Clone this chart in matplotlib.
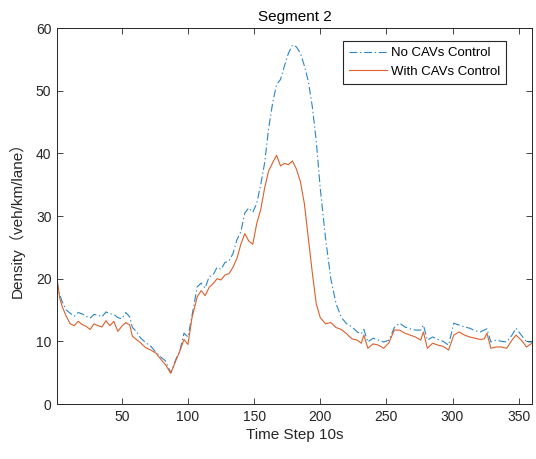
import matplotlib
matplotlib.use("Agg")
import matplotlib.pyplot as plt

t = [1, 3, 5, 8, 11, 14, 17, 20, 23, 26, 29, 32, 35, 38, 41, 44, 47, 50, 53, 56,
     58, 61, 64, 68, 72, 76, 80, 83, 87, 91, 94, 97, 100, 103, 107, 110, 113, 116, 119, 122,
     125, 128, 131, 134, 137, 140, 143, 146, 149, 152, 155, 158, 161, 164, 167, 170, 173, 176, 179, 182,
     185, 188, 191, 194, 197, 200, 204, 208, 212, 216, 220, 224, 228, 231, 233, 236, 240, 244, 248, 252,
     256, 260, 264, 268, 272, 276, 278, 281, 285, 289, 293, 297, 301, 305, 309, 313, 317, 321, 324, 326,
     329, 333, 337, 341, 345, 348, 352, 356, 360]

no_cav = [19.5, 17.5, 16.3, 15.0, 14.5, 14.0, 14.6, 14.4, 14.0, 13.7, 14.3, 14.2, 13.9, 14.7, 14.4, 14.3, 13.8, 13.6, 14.6, 13.9,
          12.2, 11.6, 10.6, 9.8, 9.2, 8.2, 7.4, 6.9, 5.0, 7.2, 8.6, 11.3, 10.7, 14.0, 18.7, 19.3, 18.5, 20.3, 20.6, 21.8,
          21.5, 22.6, 22.8, 24.0, 26.2, 27.5, 30.5, 31.3, 30.6, 32.0, 35.0, 38.5, 44.0, 48.0, 51.0, 51.8, 54.0, 56.0, 57.3, 57.0,
          56.0, 54.0, 51.5, 47.5, 42.0, 34.5, 26.5, 20.0, 16.0, 13.8, 12.8, 12.3, 11.5, 11.2, 11.9, 9.9, 10.5, 10.2, 9.9, 10.2,
          12.2, 12.9, 12.3, 12.0, 11.8, 11.8, 12.6, 10.2, 10.7, 10.3, 10.0, 9.4, 12.9, 12.6, 12.3, 12.1, 11.7, 11.5, 11.8, 12.0,
          9.9, 10.2, 10.0, 9.9, 11.0, 12.1, 11.0, 9.9, 9.9]

with_cav = [20.0, 17.0, 15.5, 14.0, 12.8, 12.5, 13.2, 12.7, 12.4, 11.9, 12.8, 12.5, 12.3, 13.3, 12.5, 13.2, 11.6, 12.4, 13.0, 12.6,
            10.8, 10.3, 9.8, 9.0, 8.6, 8.1, 7.0, 6.3, 4.9, 7.0, 8.5, 10.3, 9.5, 13.7, 17.1, 18.1, 17.3, 18.6, 19.2, 20.0,
            19.8, 20.6, 20.8, 21.8, 23.2, 25.5, 27.2, 26.0, 25.5, 28.8, 31.0, 34.5, 37.2, 38.5, 39.7, 38.0, 38.4, 38.2, 38.8, 37.5,
            35.5, 32.0, 26.5, 21.0, 16.0, 13.8, 12.8, 13.0, 12.2, 11.9, 11.2, 10.4, 10.2, 9.7, 11.0, 8.9, 9.6, 9.4, 8.9, 9.8,
            11.8, 11.8, 11.3, 11.0, 10.7, 10.2, 11.5, 8.9, 9.7, 9.4, 9.2, 8.6, 11.0, 11.5, 11.0, 10.7, 10.5, 10.3, 10.4, 11.3,
            8.9, 9.1, 9.1, 8.9, 10.2, 11.0, 10.2, 9.1, 9.7]

xticks = [50, 100, 150, 200, 250, 300, 350]
yticks = [0, 10, 20, 30, 40, 50, 60]

plt.rcParams['font.family'] = ['Liberation Sans', 'Noto Sans CJK SC', 'DejaVu Sans']
axc = '#262626'

fig = plt.figure(figsize=(5.36, 4.59), dpi=100)
ax = fig.add_axes([0.1063, 0.1198, 0.886, 0.819])

ax.plot(t, no_cav, color='#2a86c6', lw=0.8, linestyle=(0, (7, 2.5, 1.2, 2.5)), label='No CAVs Control')
ax.plot(t, with_cav, color='#DD5F2A', lw=0.8, label='With CAVs Control')

ax.set_xlim(1, 360)
ax.set_ylim(0, 60)
ax.set_xticks(xticks)
ax.set_yticks(yticks)
ax.tick_params(direction='in', top=True, right=True, length=4, width=0.6,
               labelsize=10, colors=axc, pad=4)
for s in ax.spines.values():
    s.set_color(axc)
    s.set_linewidth(0.7)

ax.set_xlabel('Time Step 10s', fontsize=11, color=axc, labelpad=3)
ax.set_ylabel('Density（veh/km/lane）', fontsize=11, color=axc, labelpad=8)
ax.set_title('Segment 2', fontsize=11, color='black', pad=5)

leg = ax.legend(loc='upper right', bbox_to_anchor=(0.951, 0.972), fontsize=9.5,
                frameon=True, fancybox=False, framealpha=1, edgecolor='#262626',
                handlelength=2.9, borderpad=0.45, labelspacing=0.45, handletextpad=0.3,
                borderaxespad=0.2)
leg.get_frame().set_linewidth(0.8)

fig.savefig('out.png', dpi=100)
